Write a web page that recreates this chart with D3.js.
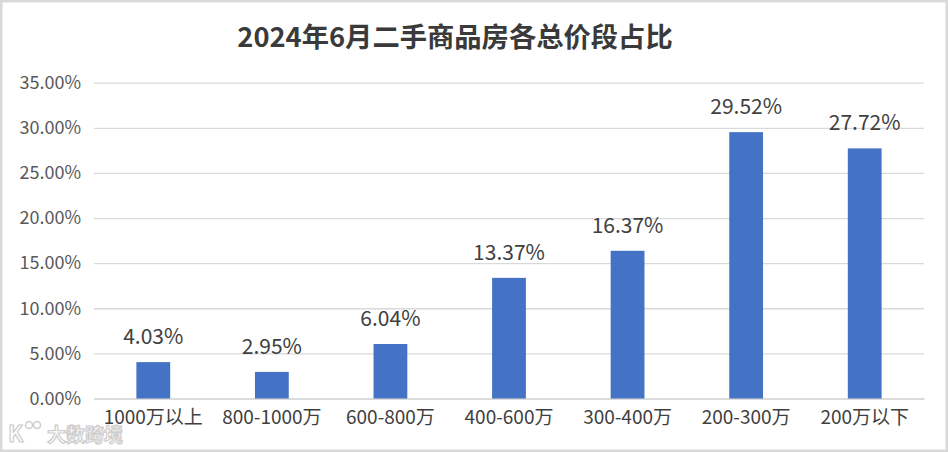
<!DOCTYPE html>
<html>
<head>
<meta charset="utf-8">
<script src="https://cdn.jsdelivr.net/npm/d3@7"></script>
<style>
  html, body { margin: 0; padding: 0; background: #fff; }
  svg { display: block; }
  text { font-family: "Noto Sans CJK SC", "Noto Sans", sans-serif; }
</style>
</head>
<body>
<svg id="chart" width="948" height="452"></svg>
<script>
const title = "2024年6月二手商品房各总价段占比";
const categories = ["1000万以上", "800-1000万", "600-800万", "400-600万", "300-400万", "200-300万", "200万以下"];
const values = [4.03, 2.95, 6.04, 13.37, 16.37, 29.52, 27.72];
const yTicks = [0, 5, 10, 15, 20, 25, 30, 35];
const watermark = "大数跨境";

const W = 948, H = 452;
const margin = { left: 94, right: 24, top: 82.7, bottom: 53.5 };
const svg = d3.select("#chart");

// outer border
svg.append("rect")
  .attr("x", 1.25).attr("y", 1.25)
  .attr("width", W - 2.5).attr("height", H - 2.5)
  .attr("fill", "#fff").attr("stroke", "#d9d9d9").attr("stroke-width", 2.5);

const x = d3.scaleBand()
  .domain(categories)
  .range([margin.left, W - margin.right])
  .paddingInner(0.715).paddingOuter(0.3575);

const y = d3.scaleLinear()
  .domain([0, 35])
  .range([H - margin.bottom, margin.top]);

// grid
const yAxis = d3.axisLeft(y)
  .tickValues(yTicks)
  .tickSize(-(W - margin.left - margin.right))
  .tickPadding(13)
  .tickFormat(d => d3.format(".2f")(d) + "%");

const gy = svg.append("g")
  .attr("transform", `translate(${margin.left},0)`)
  .call(yAxis);
gy.select(".domain").remove();
gy.selectAll(".tick line").attr("stroke", "#d9d9d9").attr("stroke-width", 1.3);
gy.selectAll(".tick text")
  .attr("fill", "#595959")
  .style("font-size", "18px");

// x axis
const xAxis = d3.axisBottom(x).tickSize(0).tickPadding(12);
const gx = svg.append("g")
  .attr("transform", `translate(0,${H - margin.bottom})`)
  .call(xAxis);
gx.select(".domain").attr("stroke", "#d9d9d9").attr("stroke-width", 1.3);
gx.selectAll(".tick text")
  .attr("fill", "#404040")
  .style("font-size", "19px");

// bars
svg.append("g").selectAll("rect")
  .data(values)
  .join("rect")
  .attr("x", (d, i) => x(categories[i]))
  .attr("width", x.bandwidth())
  .attr("y", d => y(d))
  .attr("height", d => y(0) - y(d))
  .attr("fill", "#4472C4");

// data labels
svg.append("g").selectAll("text")
  .data(values)
  .join("text")
  .attr("x", (d, i) => x(categories[i]) + x.bandwidth() / 2)
  .attr("y", d => y(d) - 18)
  .attr("text-anchor", "middle")
  .attr("fill", "#404040")
  .style("font-size", "21px")
  .text(d => d3.format(".2f")(d) + "%");

// title
svg.append("text")
  .attr("x", 455).attr("y", 47)
  .attr("text-anchor", "middle")
  .attr("fill", "#3a3a3a")
  .style("font-size", "27.3px")
  .style("font-weight", "bold")
  .text(title);

// watermark
const wm = svg.append("g").attr("opacity", 0.9);
wm.append("text")
  .attr("x", 8).attr("y", 442)
  .attr("fill", "#fff").attr("stroke", "#c8c8c8").attr("stroke-width", 1.2)
  .style("font-size", "22px").style("font-weight", "bold")
  .text("K");
wm.append("circle").attr("cx", 29).attr("cy", 425).attr("r", 3.5)
  .attr("fill", "none").attr("stroke", "#c8c8c8").attr("stroke-width", 1.5);
wm.append("circle").attr("cx", 37).attr("cy", 425).attr("r", 3.5)
  .attr("fill", "none").attr("stroke", "#c8c8c8").attr("stroke-width", 1.5);
wm.append("text")
  .attr("x", 47).attr("y", 442)
  .attr("fill", "#fff").attr("stroke", "#c8c8c8").attr("stroke-width", 1.2)
  .style("font-size", "19px").style("font-weight", "bold")
  .text(watermark);
</script>
</body>
</html>
